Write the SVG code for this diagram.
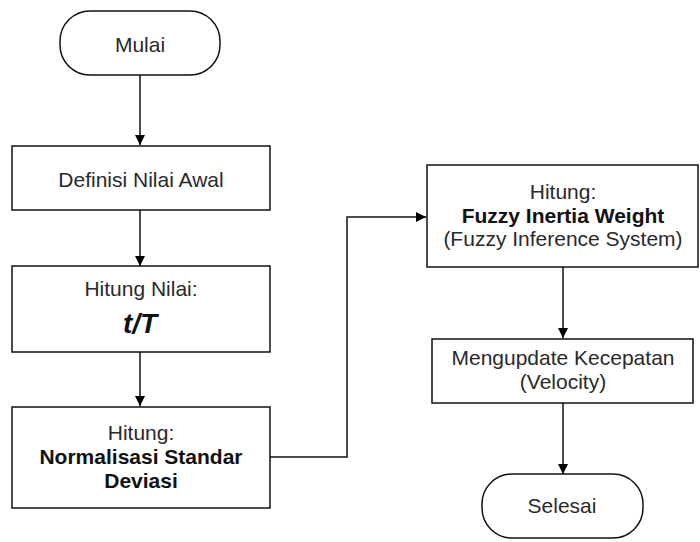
<svg xmlns="http://www.w3.org/2000/svg" width="700" height="542" viewBox="0 0 700 542">
  <defs>
    <marker id="arrow" viewBox="0 0 10 10" refX="10" refY="5" markerWidth="10" markerHeight="11" markerUnits="userSpaceOnUse" orient="auto">
      <path d="M0,0 L10,5 L0,10 z" fill="#000"/>
    </marker>
    <style>
      .shape { fill: #fff; stroke: #111; stroke-width: 1.5; }
      .label { font-family: "Liberation Sans", Arial, sans-serif; font-size: 21px; fill: #2a2a2a; text-anchor: middle; }
      .bold { font-weight: bold; fill: #111; }
      .big { font-size: 28px; font-style: italic; }
      .edge { fill: none; stroke: #111; stroke-width: 1.5; marker-end: url(#arrow); }
    </style>
  </defs>
  <rect width="700" height="542" fill="#fff"/>

  <g id="connectors">
    <path class="edge" d="M140,75 V145"/>
    <path class="edge" d="M140,210 V266"/>
    <path class="edge" d="M140,352 V406"/>
    <path class="edge" d="M270,457 H347 V217 H426"/>
    <path class="edge" d="M563,267 V338"/>
    <path class="edge" d="M563,403 V474"/>
  </g>

  <g id="mulai">
    <rect class="shape" x="60" y="11" width="160" height="64" rx="30" ry="30"/>
    <text class="label" x="140" y="52">Mulai</text>
  </g>

  <g id="definisi">
    <rect class="shape" x="12" y="146" width="258" height="64"/>
    <text class="label" x="141" y="187">Definisi Nilai Awal</text>
  </g>

  <g id="hitung-nilai">
    <rect class="shape" x="12" y="266" width="258" height="86"/>
    <text class="label" x="141" y="296">Hitung Nilai:</text>
    <text class="label bold big" x="140" y="333">t/T</text>
  </g>

  <g id="normalisasi">
    <rect class="shape" x="12" y="407" width="258" height="101"/>
    <text class="label" x="141" y="440">Hitung:</text>
    <text class="label bold" x="141" y="464">Normalisasi Standar</text>
    <text class="label bold" x="141" y="488">Deviasi</text>
  </g>

  <g id="fuzzy">
    <rect class="shape" x="427" y="165" width="271" height="102"/>
    <text class="label" x="563" y="199">Hitung:</text>
    <text class="label bold" x="563" y="223">Fuzzy Inertia Weight</text>
    <text class="label" x="563" y="246">(Fuzzy Inference System)</text>
  </g>

  <g id="velocity">
    <rect class="shape" x="432" y="339" width="261" height="64"/>
    <text class="label" x="563" y="365">Mengupdate Kecepatan</text>
    <text class="label" x="563" y="389">(Velocity)</text>
  </g>

  <g id="selesai">
    <rect class="shape" x="482" y="474" width="161" height="64" rx="30" ry="30"/>
    <text class="label" x="562" y="513">Selesai</text>
  </g>
</svg>
